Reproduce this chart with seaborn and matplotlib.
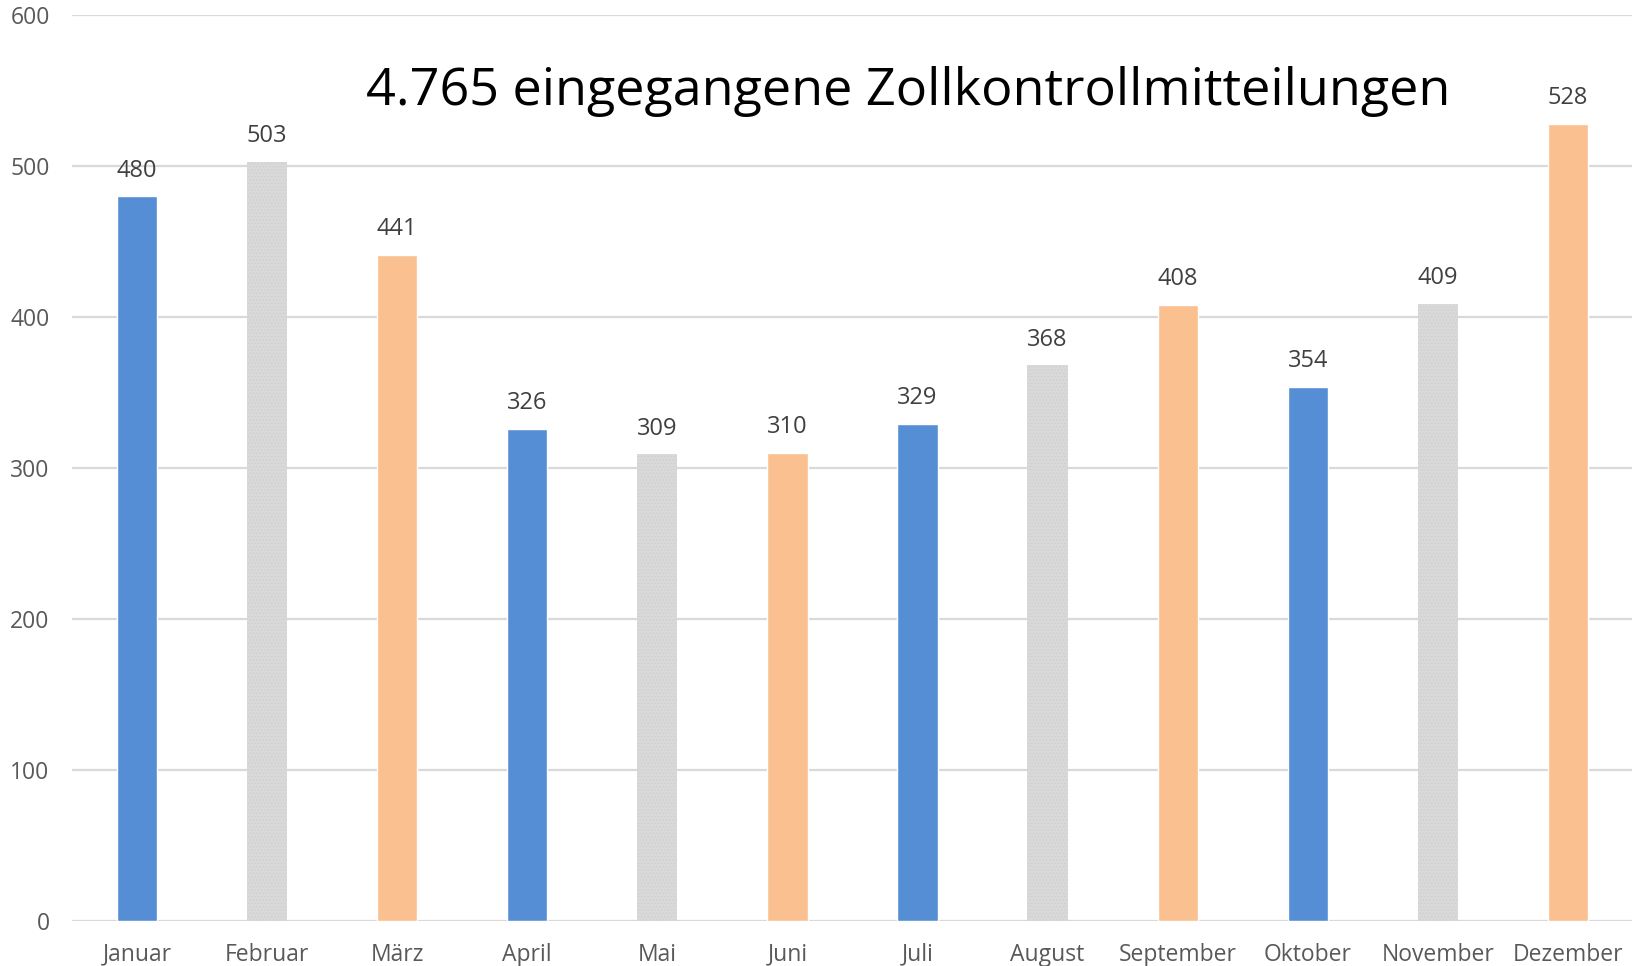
import matplotlib
matplotlib.use("Agg")
import matplotlib.pyplot as plt
import seaborn as sns
import pandas as pd

# %%--  Data
months = ["Januar", "Februar", "März", "April", "Mai", "Juni", "Juli",
          "August", "September", "Oktober", "November", "Dezember"]
counts = [480, 503, 441, 326, 309, 310, 329, 368, 408, 354, 409, 528]
bar_colors = ["#558ED5", "#D9D9D9", "#FAC090"] * 4
title = "4.765 eingegangene Zollkontrollmitteilungen"
# %%-

# %%--  Plot
sns.set_style("white")
plt.rcParams['font.family'] = ['Open Sans', 'DejaVu Sans']
plt.rcParams['hatch.linewidth'] = 0.6

df = pd.DataFrame({"Monat": months, "Anzahl": counts})

fig = plt.figure(figsize=(16.33, 9.66), dpi=100)
ax = fig.add_axes([0.044, 0.047, 0.956, 0.937])
sns.barplot(data=df, x="Monat", y="Anzahl", hue="Monat", palette=bar_colors,
            width=0.31, saturation=1, legend=False, ax=ax, zorder=3)

#   Dotted texture on the grey bars
for bar, c in zip(ax.patches, bar_colors):
    if c == "#D9D9D9":
        bar.set_hatch(".....")
        bar.set_edgecolor("#CFCFCF")
        bar.set_linewidth(0)

for bar, v in zip(ax.patches, counts):
    ax.annotate(str(v), (bar.get_x() + bar.get_width() / 2, v),
                xytext=(0, 10), textcoords="offset points",
                ha="center", va="bottom", fontsize=17, color="#404040")

ax.set_ylim(0, 600)
ax.set_yticks(range(0, 601, 100))
ax.set_xlim(-0.5, 11.5)
ax.yaxis.grid(True, color="#D9D9D9", linewidth=1.6, zorder=0)
ax.set_axisbelow(True)
for s in ax.spines.values():
    s.set_visible(False)
ax.tick_params(axis="y", length=0, pad=16, labelsize=16.5, labelcolor="#595959")
ax.tick_params(axis="x", length=0, pad=16, labelsize=16.5, labelcolor="#595959")
ax.set_xlabel("")
ax.set_ylabel("")

fig.text(0.556, 0.905, title, ha="center", va="center", fontsize=37.5, color="black")

plt.savefig("out.png", dpi=100)
# %%-
